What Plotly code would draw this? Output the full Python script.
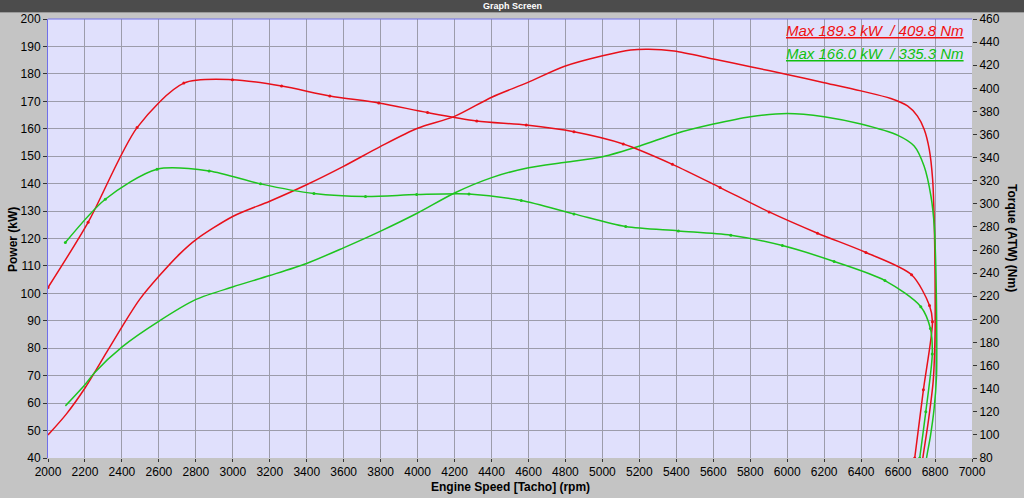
import plotly.graph_objects as go

# ---------------- data ----------------
rpm_ticks = list(range(2000, 7001, 200))

# Red run - power (kW)
red_power_rpm = [2000, 2099, 2202, 2316, 2403, 2496, 2601, 2713, 2801, 3002, 3200, 3399,
                 3599, 3800, 4000, 4200, 4401, 4594, 4792, 5001, 5153, 5250, 5388, 5601,
                 5801, 5999, 6200, 6399, 6561, 6651, 6705, 6741, 6769, 6787, 6796, 6800,
                 6800, 6790, 6765, 6734, 6725]
red_power_kw = [48.4, 56.0, 65.7, 78.4, 88.1, 97.8, 106.3, 114.4, 119.6, 128.1, 133.6, 139.6,
                146.3, 153.6, 160.2, 164.5, 171.5, 176.8, 182.7, 186.6, 188.7, 189.0, 188.3, 185.4,
                182.6, 179.8, 176.8, 173.8, 171.0, 168.3, 164.6, 159.8, 152.4, 141.5, 125.6, 107.0,
                85.0, 68.0, 54.0, 40.0, 35.0]

# Red run - torque (Nm)
red_torque_rpm = [2000, 2217, 2482, 2735, 2998, 3264, 3525, 3790, 4054, 4320, 4588, 4846,
                  5113, 5379, 5637, 5902, 6164, 6426, 6673, 6770, 6786, 6737, 6690, 6675]
red_torque_nm = [227.6, 284.0, 366.0, 404.5, 407.5, 402.0, 393.4, 387.3, 379.0, 371.8, 368.2, 362.4,
                 351.8, 334.2, 314.1, 293.0, 274.6, 257.9, 238.6, 212.0, 198.0, 139.0, 80.0, 62.0]

# Green run - power (kW)
green_power_rpm = [2094, 2202, 2253, 2403, 2601, 2801, 3002, 3200, 3399, 3599, 3800, 4000,
                   4200, 4401, 4594, 4801, 5001, 5202, 5400, 5601, 5801, 6000, 6200, 6399,
                   6599, 6687, 6741, 6778, 6796, 6805, 6809, 6808, 6795, 6775, 6754, 6745]
green_power_kw = [59.0, 66.9, 71.2, 80.6, 89.9, 97.8, 102.4, 106.5, 110.9, 116.6, 122.7, 129.3,
                  136.6, 142.2, 145.7, 147.8, 149.8, 153.7, 158.3, 161.7, 164.4, 165.6, 164.4, 161.7,
                  157.6, 153.7, 146.3, 135.4, 124.4, 107.3, 88.0, 70.0, 58.0, 48.0, 40.0, 35.0]

# Green run - torque (Nm)
green_torque_rpm = [2094, 2310, 2590, 2872, 3150, 3439, 3718, 3995, 4278, 4561, 4846, 5126,
                    5411, 5695, 5974, 6254, 6529, 6723, 6775, 6785, 6750, 6717, 6705]
green_torque_nm = [266.5, 304.0, 330.0, 328.5, 317.3, 308.9, 306.3, 308.0, 308.6, 302.9, 291.3, 280.3,
                   276.6, 272.9, 263.9, 250.1, 233.6, 211.0, 192.0, 170.0, 120.0, 80.0, 65.0]

max_labels = ["Max 189.3 kW  / 409.8 Nm", "Max 166.0 kW  / 335.3 Nm"]

# ---------------- styling ----------------
RED = "#E8101A"
GREEN = "#1EC41E"
FONT = "Liberation Sans, Arial, sans-serif"

fig = go.Figure()

fig.add_trace(go.Scatter(x=red_power_rpm, y=red_power_kw, mode="lines",
                         line=dict(color=RED, width=1.5, shape="spline", smoothing=0.8),
                         yaxis="y", showlegend=False, hoverinfo="skip"))
fig.add_trace(go.Scatter(x=green_power_rpm, y=green_power_kw, mode="lines",
                         line=dict(color=GREEN, width=1.5, shape="spline", smoothing=0.8),
                         yaxis="y", showlegend=False, hoverinfo="skip"))
fig.add_trace(go.Scatter(x=red_torque_rpm, y=red_torque_nm, mode="lines+markers",
                         line=dict(color=RED, width=1.5, shape="spline", smoothing=0.8),
                         marker=dict(color=RED, size=3),
                         yaxis="y2", showlegend=False, hoverinfo="skip"))
fig.add_trace(go.Scatter(x=green_torque_rpm, y=green_torque_nm, mode="lines+markers",
                         line=dict(color=GREEN, width=1.5, shape="spline", smoothing=0.8),
                         marker=dict(color=GREEN, size=3),
                         yaxis="y2", showlegend=False, hoverinfo="skip"))

L, R, T, B = 48, 52, 19, 40
W, H = 1024, 498
pw = W - L - R
ph = H - T - B


def px_x(px):
    return (px - L) / pw


def px_y(py):
    return 1 - (py - T) / ph


fig.update_layout(
    width=W, height=H,
    margin=dict(l=L, r=R, t=T, b=B, pad=0),
    paper_bgcolor="#C4C4C4",
    plot_bgcolor="#E0E0FC",
    font=dict(family=FONT, size=12, color="black"),
    xaxis=dict(range=[2000, 7000], tickvals=rpm_ticks, ticktext=[str(v) for v in rpm_ticks],
               showgrid=True, gridcolor="#9C9CAA", gridwidth=1,
               ticks="outside", ticklen=3, tickcolor="#333", zeroline=False,
               showline=False, tickfont=dict(size=12)),
    yaxis=dict(range=[40, 200], dtick=10, showgrid=True, gridcolor="#9C9CAA", gridwidth=1,
               ticks="outside", ticklen=4, tickcolor="#333", zeroline=False,
               showline=True, linecolor="#7070E8", linewidth=1, tickfont=dict(size=12)),
    yaxis2=dict(range=[80, 460], dtick=20, overlaying="y", side="right", showgrid=False,
                ticks="outside", ticklen=4, tickcolor="#333", zeroline=False,
                showline=False, tickfont=dict(size=12)),
    hovermode=False,
)

shapes = [
    # top border of the plot area
    dict(type="line", xref="paper", yref="paper", x0=0, x1=1, y0=1, y1=1,
         line=dict(color="#7070E8", width=1)),
    # title bar
    dict(type="rect", xref="paper", yref="paper", x0=px_x(0), x1=px_x(W),
         y0=px_y(12), y1=px_y(0), fillcolor="#4C4C4C", line=dict(width=0), layer="above"),
    dict(type="line", xref="paper", yref="paper", x0=px_x(0), x1=px_x(W),
         y0=px_y(12.5), y1=px_y(12.5), line=dict(color="#9A9A9A", width=1)),
]
fig.update_layout(shapes=shapes)

annotations = [
    dict(text="<b>Graph Screen</b>", xref="paper", yref="paper", x=px_x(512), y=px_y(6),
         showarrow=False, font=dict(size=9, color="white", family=FONT),
         xanchor="center", yanchor="middle"),
    dict(text="<b>Power (kW)</b>", xref="paper", yref="paper", x=px_x(13), y=px_y(240),
         showarrow=False, textangle=-90, font=dict(size=12, family=FONT),
         xanchor="center", yanchor="middle"),
    dict(text="<b>Torque (ATW) (Nm)</b>", xref="paper", yref="paper", x=px_x(1012), y=px_y(238),
         showarrow=False, textangle=90, font=dict(size=12, family=FONT),
         xanchor="center", yanchor="middle"),
    dict(text="<b>Engine Speed [Tacho] (rpm)</b>", xref="paper", yref="paper", x=px_x(510),
         y=px_y(487), showarrow=False, font=dict(size=12, family=FONT),
         xanchor="center", yanchor="middle"),
    dict(text="<i><u>" + max_labels[0] + "</u></i>", xref="paper", yref="paper", x=px_x(966),
         y=px_y(31), showarrow=False, font=dict(size=15, color="#F01010", family=FONT),
         xanchor="right", yanchor="middle"),
    dict(text="<i><u>" + max_labels[1] + "</u></i>", xref="paper", yref="paper", x=px_x(966),
         y=px_y(53), showarrow=False, font=dict(size=15, color="#10C010", family=FONT),
         xanchor="right", yanchor="middle"),
]
fig.update_layout(annotations=annotations)

fig.write_html("out.html", config={"displayModeBar": False})
